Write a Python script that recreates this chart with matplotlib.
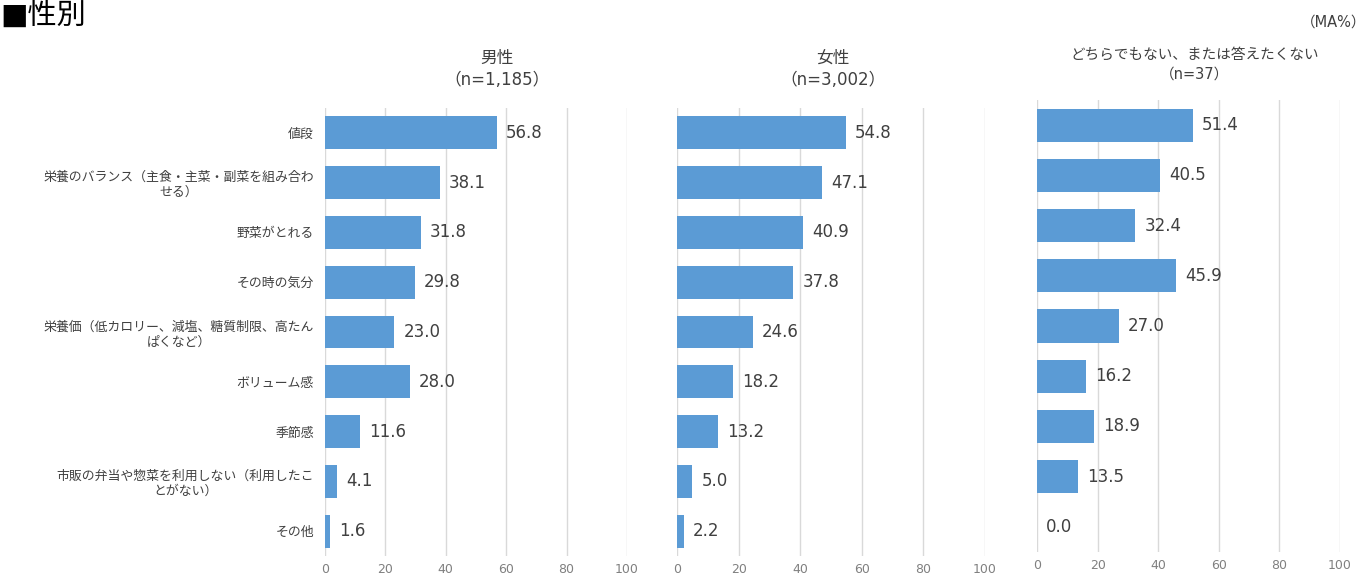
import matplotlib.pyplot as plt

plt.rcParams['font.family'] = ['DejaVu Sans', 'Noto Sans CJK JP']

# Colors
BAR_COLOR = '#5b9bd5'
GRID_COLOR = '#d9d9d9'
TEXT_COLOR = '#404040'
TICK_COLOR = '#808080'

categories = [
    '値段',
    '栄養のバランス（主食・主菜・副菜を組み合わ\nせる）',
    '野菜がとれる',
    'その時の気分',
    '栄養価（低カロリー、減塩、糖質制限、高たん\nぱくなど）',
    'ボリューム感',
    '季節感',
    '市販の弁当や惣菜を利用しない（利用したこ\nとがない）',
    'その他',
]
male = [56.8, 38.1, 31.8, 29.8, 23.0, 28.0, 11.6, 4.1, 1.6]
female = [54.8, 47.1, 40.9, 37.8, 24.6, 18.2, 13.2, 5.0, 2.2]
other = [51.4, 40.5, 32.4, 45.9, 27.0, 16.2, 18.9, 13.5, 0.0]

titles = ['男性\n（n=1,185）', '女性\n（n=3,002）', 'どちらでもない、または答えたくない\n（n=37）']
title_sizes = [12, 12, 10.5]
title_x = [497, 833, 1195]
title_y = [69, 69, 64]

W, H = 1367, 576
fig = plt.figure(figsize=(W / 100, H / 100), dpi=100)

# panel boxes in pixels: left, top, right, bottom
boxes = [(325, 108, 627, 556), (677, 108, 985, 556), (1037, 100, 1340, 552)]

for i, (vals, (l, t, r, b)) in enumerate(zip([male, female, other], boxes)):
    ax = fig.add_axes([l / W, 1 - b / H, (r - l) / W, (b - t) / H])
    y = list(range(len(vals)))
    ax.barh(y, vals, height=0.66, color=BAR_COLOR, zorder=2)
    for yi, v in zip(y, vals):
        ax.text(v + 3.0, yi, f'{v:.1f}', va='center', ha='left',
                fontsize=12, color=TEXT_COLOR)
    ax.set_xlim(0, 100)
    ax.set_ylim(len(vals) - 0.5, -0.5)
    ax.set_xticks(range(0, 101, 20))
    ax.grid(axis='x', color=GRID_COLOR, linewidth=1, zorder=0)
    for s in ax.spines.values():
        s.set_visible(False)
    ax.tick_params(axis='x', length=0, labelsize=9, labelcolor=TICK_COLOR, pad=5)
    ax.tick_params(axis='y', length=0)
    if i == 0:
        ax.set_yticks(y)
        ax.set_yticklabels(categories, fontsize=9.3, color=TEXT_COLOR,
                           multialignment='center')
        ax.tick_params(axis='y', pad=8)
    else:
        ax.set_yticks([])
    fig.text(title_x[i] / W, 1 - title_y[i] / H, titles[i], ha='center', va='center',
             fontsize=title_sizes[i], color=TEXT_COLOR, linespacing=1.35)

fig.text(0, 1 - 17 / H, '■性別', ha='left', va='center', fontsize=21, color='black')
fig.text(1366 / W, 1 - 22 / H, '（MA%）', ha='right', va='center', fontsize=10.5, color=TEXT_COLOR)

fig.savefig('out.png', dpi=100, facecolor='white')
